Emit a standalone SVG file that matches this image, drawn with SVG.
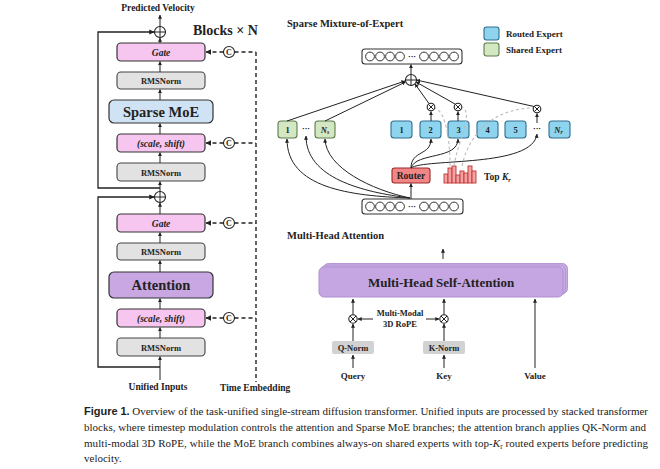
<svg xmlns="http://www.w3.org/2000/svg" width="660" height="469" viewBox="0 0 660 469">
<defs>
<marker id="ah" viewBox="0 0 6 6" refX="5.5" refY="3" markerWidth="5" markerHeight="5" orient="auto"><path d="M0,0 L6,3 L0,6 z" fill="#222"/></marker>
<marker id="ahs" viewBox="0 0 6 6" refX="5.5" refY="3" markerWidth="4" markerHeight="4" orient="auto"><path d="M0,0 L6,3 L0,6 z" fill="#222"/></marker>
<style>
.t{font-family:"Liberation Serif","Times New Roman",serif;font-weight:bold;fill:#222}
.c{text-anchor:middle}
.ln{stroke:#222;stroke-width:1.3;fill:none}
.lnt{stroke:#222;stroke-width:1;fill:none}
.ar{marker-end:url(#ah)}
.ars{marker-end:url(#ahs)}
.dash{stroke:#222;stroke-width:1.4;fill:none;stroke-dasharray:4,3}
.gdash{stroke:#bbb;stroke-width:1.1;fill:none;stroke-dasharray:3,2.5}
.pink{fill:#f6c6f0;stroke:#333;stroke-width:1.2}
.gray{fill:#e2e2e2;stroke:#444;stroke-width:1.1}
.blue{fill:#cfe3f4;stroke:#333;stroke-width:1.2}
.purple{fill:#c8a7e2;stroke:#333;stroke-width:1.2}
.shared{fill:#d3e7c3;stroke:#5d7d4d;stroke-width:1.1}
.routed{fill:#8ed4ef;stroke:#2e6f8e;stroke-width:1.1}
.circ{fill:#fff;stroke:#222;stroke-width:1.1}
.vec{fill:#fff;stroke:#333;stroke-width:1.1}
.cap{font-family:"Liberation Serif","Times New Roman",serif;font-size:11px;fill:#222}
</style>
</defs>

<!-- ============ LEFT COLUMN ============ -->
<text class="t c" x="158" y="11" font-size="9.5">Predicted Velocity</text>
<text class="t" x="193" y="35" font-size="14">Blocks × N</text>

<g id="add-top">
<circle class="circ" cx="160" cy="32" r="5.5"/>
<path class="lnt" d="M154.5,32 H165.5 M160,26.5 V37.5"/>
</g>
<g id="add-mid">
<circle class="circ" cx="160" cy="197" r="5.5"/>
<path class="lnt" d="M154.5,197 H165.5 M160,191.5 V202.5"/>
</g>

<g id="gate1"><rect class="pink" x="117" y="43" width="88" height="18" rx="4"/><text class="t c" x="161" y="55.5" font-size="9.5" font-style="italic">Gate</text></g>
<g id="rms1"><rect class="gray" x="117" y="72" width="88" height="17" rx="4"/><text class="t c" x="161" y="84" font-size="8.5">RMSNorm</text></g>
<g id="moe"><rect class="blue" x="109" y="100" width="104" height="23" rx="5"/><text class="t c" x="161" y="116.5" font-size="14.5">Sparse MoE</text></g>
<g id="ss1"><rect class="pink" x="117" y="134" width="88" height="18" rx="4"/><text class="t c" x="161" y="146.5" font-size="9.5" font-style="italic">(scale, shift)</text></g>
<g id="rms2"><rect class="gray" x="117" y="163" width="88" height="18" rx="4"/><text class="t c" x="161" y="175.5" font-size="8.5">RMSNorm</text></g>

<g id="gate2"><rect class="pink" x="117" y="214" width="88" height="18" rx="4"/><text class="t c" x="161" y="226.5" font-size="9.5" font-style="italic">Gate</text></g>
<g id="rms3"><rect class="gray" x="117" y="243" width="88" height="17" rx="4"/><text class="t c" x="161" y="255" font-size="8.5">RMSNorm</text></g>
<g id="attn"><rect class="purple" x="109" y="272" width="104" height="26" rx="5"/><text class="t c" x="161" y="290" font-size="14.5">Attention</text></g>
<g id="ss2"><rect class="pink" x="117" y="309" width="88" height="18" rx="4"/><text class="t c" x="161" y="321.5" font-size="9.5" font-style="italic">(scale, shift)</text></g>
<g id="rms4"><rect class="gray" x="117" y="338" width="88" height="18" rx="4"/><text class="t c" x="161" y="350.5" font-size="8.5">RMSNorm</text></g>

<text class="t c" x="158" y="390" font-size="9.5">Unified Inputs</text>
<text class="t" x="220" y="391" font-size="9.5">Time Embedding</text>

<g id="c-circles">
<circle class="circ" cx="229" cy="52" r="5.5"/><text class="t c" x="229" y="55.3" font-size="8" font-weight="normal">C</text>
<circle class="circ" cx="229" cy="143" r="5.5"/><text class="t c" x="229" y="146.3" font-size="8" font-weight="normal">C</text>
<circle class="circ" cx="229" cy="223" r="5.5"/><text class="t c" x="229" y="226.3" font-size="8" font-weight="normal">C</text>
<circle class="circ" cx="229" cy="318" r="5.5"/><text class="t c" x="229" y="321.3" font-size="8" font-weight="normal">C</text>
</g>

<g id="connectors-left">
<path class="lnt ars" d="M160,26.5 V15"/>
<path class="lnt ars" d="M160,43 V38"/>
<path class="lnt ars" d="M160,72 V61.5"/>
<path class="lnt ars" d="M160,100 V89.5"/>
<path class="lnt ars" d="M160,134 V123.5"/>
<path class="lnt ars" d="M160,163 V152.5"/>
<path class="lnt ars" d="M160,191.5 V181.5"/>
<path class="ln ars" d="M160,188 H98 V32 H154"/>
<path class="lnt ars" d="M160,214 V203"/>
<path class="lnt ars" d="M160,243 V232.5"/>
<path class="lnt ars" d="M160,272 V260.5"/>
<path class="lnt ars" d="M160,309 V298.5"/>
<path class="lnt ars" d="M160,338 V327.5"/>
<path class="lnt ars" d="M160,380 V356.5"/>
<path class="ln ars" d="M160,367 H98 V197 H154"/>
<path class="dash" d="M256,52 V382"/>
<path class="dash" d="M234.5,52 H256 M234.5,143 H256 M234.5,223 H256 M234.5,318 H256"/>
<path class="dash ars" d="M223.5,52 H206"/>
<path class="dash ars" d="M223.5,143 H206"/>
<path class="dash ars" d="M223.5,223 H206"/>
<path class="dash ars" d="M223.5,318 H206"/>
</g>

<!-- ============ SPARSE MoE ============ -->
<text class="t" x="287" y="27" font-size="10.5">Sparse Mixture-of-Expert</text>
<g id="legend">
<rect class="routed" x="484" y="27" width="15" height="13" rx="2.5"/>
<text class="t" x="506" y="36.5" font-size="9">Routed Expert</text>
<rect class="shared" x="484" y="43" width="15" height="13" rx="2.5"/>
<text class="t" x="506" y="52.5" font-size="9">Shared Expert</text>
</g>

<g id="out-vec">
<rect class="vec" x="362" y="49" width="100" height="15" rx="3"/>
<g fill="none" stroke="#333" stroke-width="1"><circle cx="370" cy="56.5" r="4.4"/><circle cx="380" cy="56.5" r="4.4"/><circle cx="390" cy="56.5" r="4.4"/><circle cx="400" cy="56.5" r="4.4"/><circle cx="424" cy="56.5" r="4.4"/><circle cx="434" cy="56.5" r="4.4"/><circle cx="444" cy="56.5" r="4.4"/><circle cx="454" cy="56.5" r="4.4"/></g>
<text class="t c" x="412" y="59" font-size="8">···</text>
</g>

<g id="moe-add">
<circle class="circ" cx="411" cy="80" r="5.5"/>
<path class="lnt" d="M405.5,80 H416.5 M411,74.5 V85.5"/>
</g>

<g id="shared-1"><rect class="shared" x="278" y="121" width="19" height="17" rx="3"/><text class="t c" x="287.5" y="132.5" font-size="8.5">1</text></g>
<text class="t c" x="306" y="131" font-size="8">···</text>
<g id="shared-ns"><rect class="shared" x="315" y="121" width="20" height="17" rx="3"/><text class="t c" x="325" y="132.5" font-size="8.5" font-style="italic">N<tspan font-size="6" dy="1.5">s</tspan></text></g>

<g id="routed-1"><rect class="routed" x="391" y="121" width="21" height="17" rx="3"/><text class="t c" x="401.5" y="132.5" font-size="8.5">1</text></g>
<g id="routed-2"><rect class="routed" x="420" y="121" width="21" height="17" rx="3"/><text class="t c" x="430.5" y="132.5" font-size="8.5">2</text></g>
<g id="routed-3"><rect class="routed" x="448" y="121" width="21" height="17" rx="3"/><text class="t c" x="458.5" y="132.5" font-size="8.5">3</text></g>
<g id="routed-4"><rect class="routed" x="477" y="121" width="21" height="17" rx="3"/><text class="t c" x="487.5" y="132.5" font-size="8.5">4</text></g>
<g id="routed-5"><rect class="routed" x="505" y="121" width="21" height="17" rx="3"/><text class="t c" x="515.5" y="132.5" font-size="8.5">5</text></g>
<text class="t c" x="537" y="131" font-size="8">···</text>
<g id="routed-nr"><rect class="routed" x="549" y="121" width="21" height="17" rx="3"/><text class="t c" x="558.5" y="132.5" font-size="8.5" font-style="italic">N<tspan font-size="6" dy="1.5">r</tspan></text></g>

<g id="mul-2"><circle class="circ" cx="431" cy="107" r="3.8"/><path class="lnt" d="M428.3,104.3 L433.7,109.7 M433.7,104.3 L428.3,109.7" stroke-width="0.8"/></g>
<g id="mul-3"><circle class="circ" cx="458" cy="107" r="3.8"/><path class="lnt" d="M455.3,104.3 L460.7,109.7 M460.7,104.3 L455.3,109.7" stroke-width="0.8"/></g>
<g id="mul-nr"><circle class="circ" cx="537" cy="109" r="3.8"/><path class="lnt" d="M534.3,106.3 L539.7,111.7 M539.7,106.3 L534.3,111.7" stroke-width="0.8"/></g>

<g id="router"><rect x="392" y="168" width="38" height="15" rx="2.5" fill="#f28686" stroke="#9a2a2a" stroke-width="1.1"/><text class="t c" x="411" y="179" font-size="9.5">Router</text></g>

<g id="histogram" fill="#f4a3a3" stroke="#c03434" stroke-width="0.9">
<rect x="444" y="174" width="4" height="9"/>
<rect x="448" y="168" width="4" height="15"/>
<rect x="452" y="166" width="4" height="17"/>
<rect x="456" y="175" width="4" height="8"/>
<rect x="460" y="171" width="4" height="12"/>
<rect x="464" y="173" width="4" height="10"/>
<rect x="468" y="166" width="4" height="17"/>
<rect x="472" y="171" width="4" height="12"/>
</g>
<text class="t" x="484" y="180" font-size="9.5">Top <tspan font-style="italic">K</tspan><tspan font-style="italic" font-size="6.5" dy="2">r</tspan></text>

<g id="in-vec">
<rect class="vec" x="362" y="199" width="101" height="15" rx="3"/>
<g fill="none" stroke="#333" stroke-width="1"><circle cx="370" cy="206.5" r="4.4"/><circle cx="380" cy="206.5" r="4.4"/><circle cx="390" cy="206.5" r="4.4"/><circle cx="400" cy="206.5" r="4.4"/><circle cx="424" cy="206.5" r="4.4"/><circle cx="434" cy="206.5" r="4.4"/><circle cx="444" cy="206.5" r="4.4"/><circle cx="454" cy="206.5" r="4.4"/></g>
<text class="t c" x="412" y="209" font-size="8">···</text>
</g>

<g id="connectors-moe">
<path class="lnt ars" d="M411,74.5 V64.5"/>
<path class="lnt ars" d="M287,121 L405,81"/>
<path class="lnt ars" d="M325,121 L405.5,82"/>
<path class="lnt ars" d="M429,103.5 L415,84"/>
<path class="lnt ars" d="M455,104 L416,82"/>
<path class="lnt ars" d="M534,106.5 L416.5,80"/>
<path class="lnt ars" d="M431,121 V111.5"/>
<path class="lnt ars" d="M458,121 V111.5"/>
<path class="lnt ars" d="M537,123 V113.5"/>
<path class="lnt ars" d="M411,199 V183.5"/>
<path class="lnt ars" d="M410,198 C350,196 287,188 287,139"/>
<path class="lnt ars" d="M410,198 C362,192 306,178 306,136"/>
<path class="lnt ars" d="M410,198 C372,190 326,168 325,139"/>
<path class="lnt ars" d="M411,168 C411,150 431,156 431,139"/>
<path class="lnt ars" d="M411,168 C416,152 458,160 458,139"/>
<path class="lnt ars" d="M411,168 C425,158 533,168 537,134"/>
<path class="gdash" d="M450,166 C450,140 446,112 435,108"/>
<path class="gdash" d="M454,166 C458,140 474,114 462,107"/>
<path class="gdash" d="M462,166 C470,128 500,108 533,108"/>
</g>

<!-- ============ MULTI-HEAD ATTENTION ============ -->
<text class="t" x="287" y="239" font-size="10.5">Multi-Head Attention</text>
<g id="mhsa">
<rect x="323.5" y="263.5" width="244" height="30" rx="5" fill="#c9aee6" stroke="#b597d6" stroke-width="1"/>
<rect x="321.5" y="265" width="244" height="30" rx="5" fill="#c7abe4" stroke="#b597d6" stroke-width="1"/>
<rect x="319" y="267" width="244" height="30" rx="5" fill="#c5a6e2" stroke="#b08fd2" stroke-width="1"/>
<text class="t c" x="441" y="286.5" font-size="13">Multi-Head Self-Attention</text>
</g>
<g id="mul-q"><circle class="circ" cx="353" cy="319" r="4.2"/><path class="lnt" d="M350,316 L356,322 M356,316 L350,322" stroke-width="0.8"/></g>
<g id="mul-k"><circle class="circ" cx="444" cy="319" r="4.2"/><path class="lnt" d="M441,316 L447,322 M447,316 L441,322" stroke-width="0.8"/></g>
<g id="rope"><text class="t c" x="400" y="315.5" font-size="8.5">Multi-Modal</text><text class="t c" x="400" y="326.5" font-size="8.5">3D RoPE</text></g>
<g id="qnorm"><rect x="332" y="341" width="42" height="13" rx="2" fill="#d2d2d2"/><text class="t c" x="353" y="350.5" font-size="8.5">Q-Norm</text></g>
<g id="knorm"><rect x="423" y="341" width="42" height="13" rx="2" fill="#d2d2d2"/><text class="t c" x="444" y="350.5" font-size="8.5">K-Norm</text></g>
<text class="t c" x="353" y="379" font-size="9">Query</text>
<text class="t c" x="444" y="379" font-size="9">Key</text>
<text class="t c" x="535" y="379" font-size="9">Value</text>

<g id="connectors-attn">
<path class="lnt ars" d="M443,259 V249"/>
<path class="lnt ars" d="M353,314.5 V299"/>
<path class="lnt ars" d="M444,314.5 V299"/>
<path class="lnt ars" d="M373,319 H358"/>
<path class="lnt ars" d="M426,319 H439"/>
<path class="lnt ars" d="M353,341 V324"/>
<path class="lnt ars" d="M444,341 V324"/>
<path class="lnt ars" d="M353,368 V355"/>
<path class="lnt ars" d="M444,368 V355"/>
<path class="lnt ars" d="M535,368 V299"/>
</g>

<!-- ============ CAPTION ============ -->
<g id="caption">
<text class="cap" x="84" y="415" textLength="564" lengthAdjust="spacing"><tspan font-family="Liberation Sans, Arial, sans-serif" font-weight="bold">Figure 1.</tspan> Overview of the task-unified single-stream diffusion transformer. Unified inputs are processed by stacked transformer</text>
<text class="cap" x="84" y="431" textLength="562" lengthAdjust="spacing">blocks, where timestep modulation controls the attention and Sparse MoE branches; the attention branch applies QK-Norm and</text>
<text class="cap" x="84" y="447" textLength="564" lengthAdjust="spacing">multi-modal 3D RoPE, while the MoE branch combines always-on shared experts with top-<tspan font-style="italic">K</tspan><tspan font-size="7.5" dy="2">r</tspan><tspan dy="-2"> routed experts before predicting</tspan></text>
<text class="cap" x="84" y="462">velocity.</text>
</g>
</svg>
